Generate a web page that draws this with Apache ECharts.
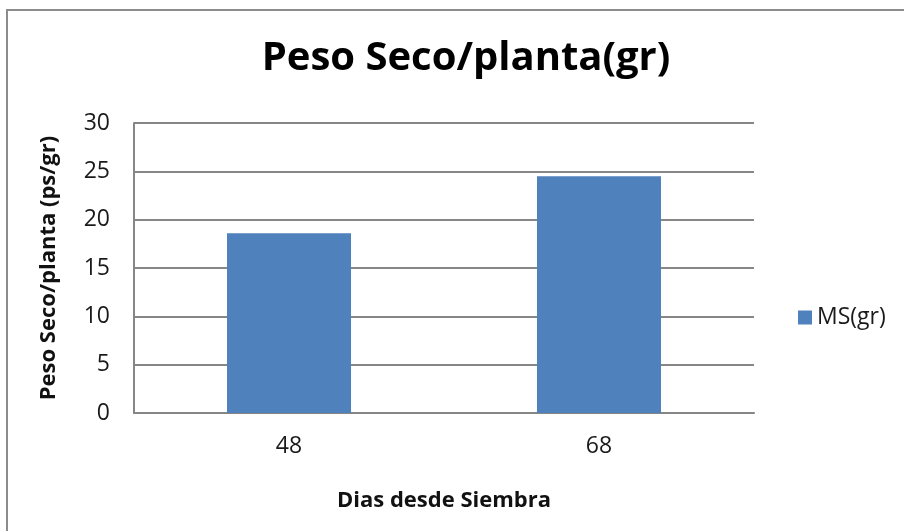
<!DOCTYPE html>
<html>
<head>
<meta charset="utf-8">
<script src="https://cdn.jsdelivr.net/npm/echarts@6/dist/echarts.min.js"></script>
<style>
  html, body { margin: 0; padding: 0; background: #fff; }
  #frame {
    position: absolute; left: 6px; top: 9px; width: 910px; height: 540px;
    border: 2px solid #8c8c8c; box-sizing: border-box;
  }
  #myChart { position: absolute; left: 0; top: 0; width: 904px; height: 531px; }
</style>
</head>
<body>
<div id="frame"></div>
<div id="myChart"></div>
<script>
// datos
const categories = ['48', '68'];
const msValues = [18.6, 24.5];
const yTicks = [0, 5, 10, 15, 20, 25, 30];

const myChart = echarts.init(document.getElementById('myChart'));
myChart.setOption({
  animation: false,
  textStyle: { fontFamily: 'Open Sans' },
  title: {
    text: 'Peso Seco/planta(gr)',
    left: 461,
    top: 34,
    textAlign: 'center',
    textStyle: { fontSize: 40, fontWeight: 'bold', color: '#000', fontFamily: 'Open Sans' },
  },
  legend: {
    data: ['MS(gr)'],
    orient: 'vertical',
    left: 793,
    top: 301,
    itemWidth: 14,
    itemHeight: 14,
    itemGap: 5,
    icon: 'rect',
    textStyle: { fontSize: 23, color: '#1a1a1a', padding: [0, 0, 0, 0] },
  },
  grid: {
    left: 134,
    right: 150,
    top: 123,
    bottom: 118,
    containLabel: false,
  },
  xAxis: {
    type: 'category',
    data: categories,
    name: 'Dias desde Siembra',
    nameLocation: 'middle',
    nameGap: 77,
    nameTextStyle: { fontSize: 22, fontWeight: 'bold', color: '#111' },
    axisLine: { lineStyle: { color: '#868686', width: 2 } },
    axisTick: { show: false },
    axisLabel: { fontSize: 23, color: '#1a1a1a', margin: 22 },
  },
  yAxis: {
    type: 'value',
    min: 0,
    max: 30,
    interval: 5,
    name: 'Peso Seco/planta (ps/gr)',
    nameLocation: 'middle',
    nameGap: 74,
    nameRotate: 90,
    nameTextStyle: { fontSize: 22, fontWeight: 'bold', color: '#111' },
    axisLine: { show: true, lineStyle: { color: '#868686', width: 2 } },
    axisTick: { show: false },
    axisLabel: {
      fontSize: 23, color: '#1a1a1a', margin: 24,
      formatter(v) { return yTicks.indexOf(v) >= 0 ? String(v) : ''; },
    },
    splitLine: { lineStyle: { color: '#868686', width: 2 } },
  },
  series: [
    {
      name: 'MS(gr)',
      type: 'bar',
      data: msValues,
      barWidth: '40%',
      itemStyle: { color: '#4f81bd' },
    },
  ],
});
</script>
</body>
</html>
